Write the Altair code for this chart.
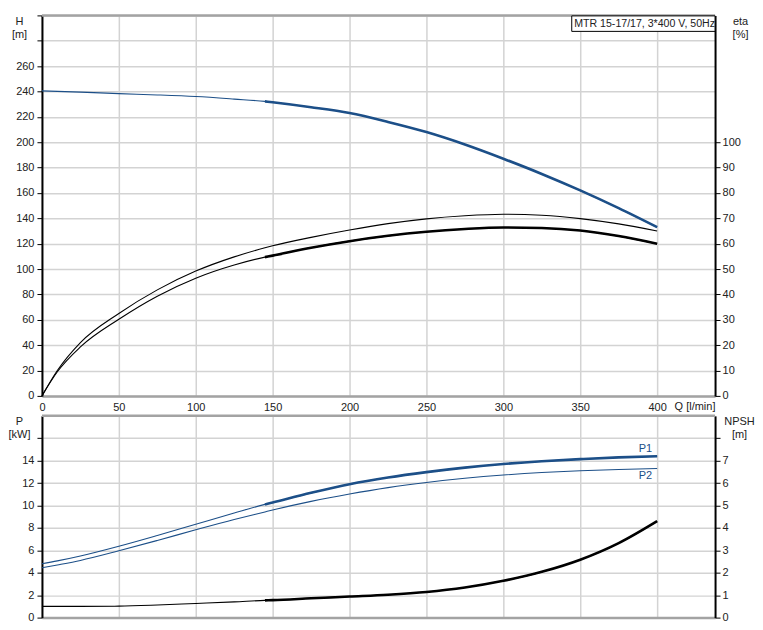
import altair as alt
import pandas as pd

# ---- data ----
Q = [0, 10, 25, 50, 75, 100, 125, 145, 150, 175, 200, 225, 250, 275, 300, 325, 350, 375, 400]
H = [240.5, 240.1, 239.5, 238.3, 237.3, 236.0, 234.0, 232.2, 231.5, 227.6, 223.0, 216.0, 208.0,
     198.2, 187.0, 175.0, 162.0, 148.0, 133.0]
ETA_U = [0.0, 10.0, 21.0, 32.5, 41.8, 49.2, 54.8, 58.4, 59.2, 62.5, 65.4, 67.9, 69.8,
         71.0, 71.6, 71.2, 69.9, 67.8, 65.0]
ETA_L = [0.0, 9.5, 19.3, 30.2, 39.3, 46.4, 51.6, 54.7, 55.3, 58.4, 61.0, 63.1, 64.7,
         65.8, 66.4, 66.2, 65.2, 63.0, 60.0]
P1 = [4.8, 5.06, 5.5, 6.37, 7.33, 8.33, 9.33, 10.1, 10.27, 11.13, 11.9, 12.5, 12.98,
      13.38, 13.7, 13.95, 14.14, 14.3, 14.4]
P2 = [4.45, 4.7, 5.1, 5.96, 6.88, 7.83, 8.75, 9.43, 9.6, 10.37, 11.03, 11.6, 12.06,
      12.43, 12.72, 12.94, 13.1, 13.22, 13.31]
NPSH = [0.5, 0.5, 0.5, 0.51, 0.56, 0.63, 0.7, 0.77, 0.78, 0.86, 0.94, 1.02, 1.14,
        1.34, 1.64, 2.04, 2.58, 3.32, 4.3]

X_TICKS = [0, 50, 100, 150, 200, 250, 300, 350, 400]
H_TICKS = list(range(0, 301, 20))
ETA_TICKS = list(range(0, 101, 10))
P_TICKS = list(range(0, 17, 2))
NPSH_TICKS = list(range(0, 9))
TITLE = "MTR 15-17/17, 3*400 V, 50Hz"
SERIES_LABELS = ["P1", "P2"]

df = pd.DataFrame({"Q": Q, "H": H, "etaU": ETA_U, "etaL": ETA_L,
                   "P1": P1, "P2": P2, "NPSH": NPSH})
one = pd.DataFrame({"t": [TITLE]})

# ---- style ----
BLUE = "#1c4f88"
FONT = "Liberation Sans"
TXT = "#222222"
GRID = "#d3d3d3"
AXG = "#a3a3a3"
W = 674
H1 = 381
H2 = 202
Q_MAX = W / 1.54
THIN = 1.1
THICK = 2.6
START = "datum.Q >= 145"

base = alt.Chart(df)
xs = alt.Scale(domain=[0, Q_MAX], nice=False, zero=False)

x_top = alt.X("Q:Q", scale=xs, axis=alt.Axis(
    values=X_TICKS, grid=True, gridColor=GRID, gridWidth=1.5, ticks=False, tickSize=0,
    labelPadding=6, labelFlush=False, domainColor=AXG, domainWidth=2.5,
    title="Q [l/min]", titleX=633, titleY=11, titleAlign="left", titleBaseline="middle"))
x_bot = alt.X("Q:Q", scale=xs, axis=alt.Axis(
    values=X_TICKS, grid=True, gridColor=GRID, gridWidth=1.5, ticks=False, tickSize=0,
    labels=False, domainColor=AXG, domainWidth=2.5, title=None))


def left_axis(values, maxlab, title):
    return alt.Axis(values=values, labelExpr=f"datum.value > {maxlab} ? '' : datum.label",
                    grid=True, gridColor=GRID, gridWidth=1.5, tickSize=5, tickColor="black",
                    domainColor="black", domainWidth=2, labelPadding=3,
                    minExtent=28, maxExtent=28, title=title, titleAngle=0, titleX=-23,
                    titleY=0, titleAlign="center", titleBaseline="top", titleLineHeight=13)


def right_axis(values, maxlab, title, tx):
    return alt.Axis(orient="right", values=values,
                    labelExpr=f"datum.value > {maxlab} ? '' : datum.label",
                    grid=False, tickSize=5, tickColor="black",
                    domainColor="black", domainWidth=2, labelPadding=2,
                    title=title, titleAngle=0, titleX=tx, titleY=0, titleAlign="center",
                    titleBaseline="top", titleLineHeight=13)


def line(color, width, thick=False):
    c = base.transform_filter(START) if thick else base
    return c.mark_line(color=color, strokeWidth=width, interpolate="monotone")


def top_rule():
    return alt.Chart(one).mark_rule(color=AXG, strokeWidth=2.5).encode(
        x=alt.value(0), x2=alt.value(W), y=alt.value(0))


# ---- top panel: H and eta ----
h_y = alt.Y("H:Q", scale=alt.Scale(domain=[0, 300], nice=False),
            axis=left_axis(H_TICKS, 260, ["H", "[m]"]))
h_layer = alt.layer(
    line(BLUE, THIN).encode(x=x_top, y=h_y),
    line(BLUE, THICK, True).encode(x=x_top, y=h_y),
)
eta_scale = alt.Scale(domain=[0, 150], nice=False)
eta_axis = right_axis(ETA_TICKS, 100, ["eta", "[%]"], 25)
eta_layer = alt.layer(
    line("black", THIN).encode(x=x_top, y=alt.Y("etaU:Q", scale=eta_scale, axis=eta_axis)),
    line("black", THIN).encode(x=x_top, y=alt.Y("etaL:Q", scale=eta_scale, axis=eta_axis)),
    line("black", THICK, True).encode(x=x_top, y=alt.Y("etaL:Q", scale=eta_scale, axis=eta_axis)),
)
box = alt.Chart(one).mark_rect(fill="white", stroke="black", strokeWidth=1).encode(
    x=alt.value(530.5), x2=alt.value(W), y=alt.value(0.5), y2=alt.value(16))
box_text = alt.Chart(one).mark_text(align="left", baseline="middle", font=FONT, fontSize=10.6,
                                    color=TXT).encode(x=alt.value(533), y=alt.value(8.5), text="t:N")
top = alt.layer(h_layer, eta_layer, top_rule(), box, box_text).resolve_scale(
    y="independent").properties(width=W, height=H1)

# ---- bottom panel: P and NPSH ----
p_scale = alt.Scale(domain=[0, 18], nice=False)
p_axis = left_axis(P_TICKS, 14, ["P", "[kW]"])
p1_y = alt.Y("P1:Q", scale=p_scale, axis=p_axis)
p2_y = alt.Y("P2:Q", scale=p_scale, axis=p_axis)
last = base.transform_filter("datum.Q == 400")
p_layer = alt.layer(
    line(BLUE, THIN).encode(x=x_bot, y=p1_y),
    line(BLUE, THICK, True).encode(x=x_bot, y=p1_y),
    line(BLUE, THIN).encode(x=x_bot, y=p2_y),
    last.mark_text(text=SERIES_LABELS[0], align="right", baseline="middle", dx=-5, dy=-7,
                   font=FONT, fontSize=11, color=BLUE).encode(x=x_bot, y=p1_y),
    last.mark_text(text=SERIES_LABELS[1], align="right", baseline="middle", dx=-5, dy=8,
                   font=FONT, fontSize=11, color=BLUE).encode(x=x_bot, y=p2_y),
)
n_y = alt.Y("NPSH:Q", scale=alt.Scale(domain=[0, 9], nice=False),
            axis=right_axis(NPSH_TICKS, 7, ["NPSH", "[m]"], 24))
n_layer = alt.layer(
    line("black", THIN).encode(x=x_bot, y=n_y),
    line("black", THICK, True).encode(x=x_bot, y=n_y),
)
bottom = alt.layer(p_layer, n_layer, top_rule()).resolve_scale(
    y="independent").properties(width=W, height=H2)

chart = alt.vconcat(top, bottom, spacing=1).properties(
    padding={"left": 0, "top": 5, "right": 0, "bottom": 0}
).configure_view(strokeOpacity=0).configure_axis(
    labelFont=FONT, titleFont=FONT, labelFontSize=11, titleFontSize=11,
    titleFontWeight="normal", labelColor=TXT, titleColor=TXT
)

chart.save("out.html", embed_options={"renderer": "svg", "actions": False})
